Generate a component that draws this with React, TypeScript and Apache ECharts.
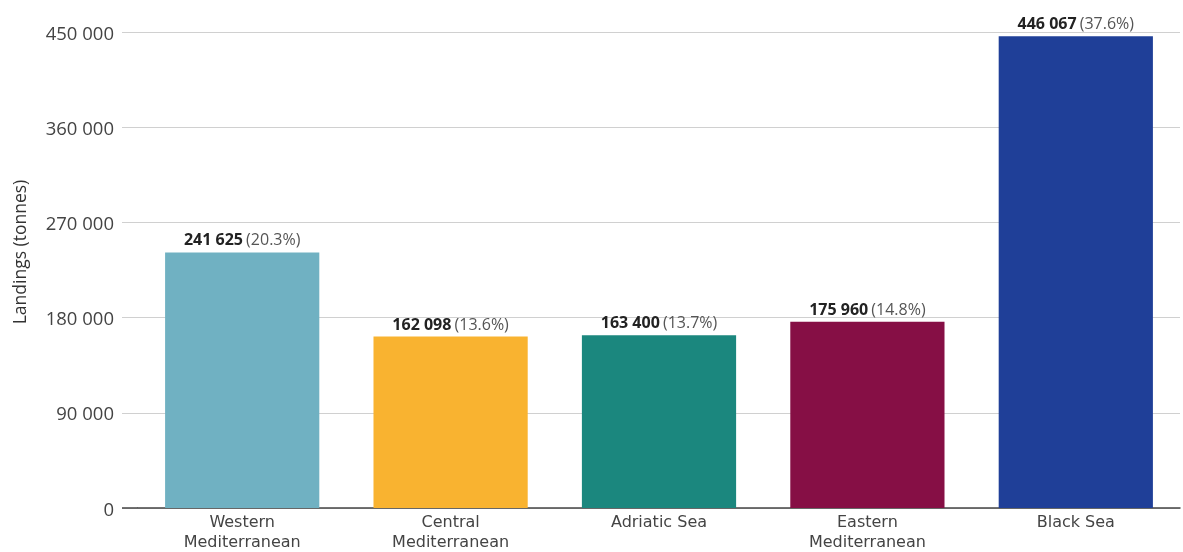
import React, { useEffect, useRef } from "react";
import * as echarts from "echarts";

const regions = ["Western\nMediterranean", "Central\nMediterranean", "Adriatic Sea", "Eastern\nMediterranean", "Black Sea"];
const landings = [241625, 162098, 163400, 175960, 446067];
const shares = ["20.3%", "13.6%", "13.7%", "14.8%", "37.6%"];
const barColors = ["#70b1c2", "#f9b330", "#1b877e", "#860f45", "#1f3f98"];
const yTicks = { min: 0, max: 450000, interval: 90000 };

const fmt = (v: number) => String(v).replace(/\B(?=(\d{3})+(?!\d))/g, " ");

const GRID = { left: 138, right: 3, top: 32, bottom: 44 };
const TICK_LEN = 16;

export default function App() {
  const ref = useRef<HTMLDivElement>(null);
  useEffect(() => {
    if (!ref.current) return;
    const chart = echarts.init(ref.current, undefined, { renderer: "svg" });
    const baseY = 552 - GRID.bottom;
    chart.setOption({
      animation: false,
      textStyle: { fontFamily: "Open Sans" },
      grid: GRID,
      // baseline continues under the y-axis ticks
      graphic: [
        {
          type: "line",
          shape: { x1: GRID.left - TICK_LEN, y1: baseY, x2: GRID.left, y2: baseY },
          style: { stroke: "#444", lineWidth: 1.5 },
          z: 10,
        },
      ],
      xAxis: {
        type: "category",
        data: regions,
        axisLine: { lineStyle: { color: "#444", width: 1.5 } },
        axisTick: { show: false },
        axisLabel: { color: "#444", fontSize: 16, lineHeight: 20, margin: 3, fontFamily: "DejaVu Sans" },
      },
      yAxis: {
        type: "value",
        min: yTicks.min,
        max: yTicks.max,
        interval: yTicks.interval,
        name: "Landings (tonnes)",
        nameLocation: "middle",
        nameGap: 110,
        nameTextStyle: { color: "#333", fontSize: 17.5, fontFamily: "Open Sans", padding: [0, 0, 0, 36] },
        axisLine: { show: false },
        axisTick: { show: true, length: TICK_LEN, lineStyle: { color: "#d0d0d0" } },
        splitLine: { lineStyle: { color: "#d0d0d0", width: 1 } },
        axisLabel: {
          color: "#444",
          fontSize: 18.5,
          margin: 24,
          fontFamily: "Open Sans",
          formatter: (v: number) => fmt(v),
        },
      },
      series: [
        {
          type: "bar",
          barCategoryGap: "26%",
          data: landings.map((v, i) => ({ value: v, itemStyle: { color: barColors[i] } })),
          label: {
            show: true,
            position: "top",
            distance: 5,
            formatter: (p: any) => `{b|${fmt(p.value)}} {s|(${shares[p.dataIndex]})}`,
            rich: {
              b: { fontWeight: "bold", color: "#222", fontSize: 16, fontFamily: "Open Sans" },
              s: { color: "#555", fontSize: 16, fontFamily: "Open Sans" },
            },
          },
        },
      ],
    });
    return () => chart.dispose();
  }, []);
  return <div ref={ref} style={{ position: "fixed", left: 0, top: 0, width: 1183, height: 552 }} />;
}
